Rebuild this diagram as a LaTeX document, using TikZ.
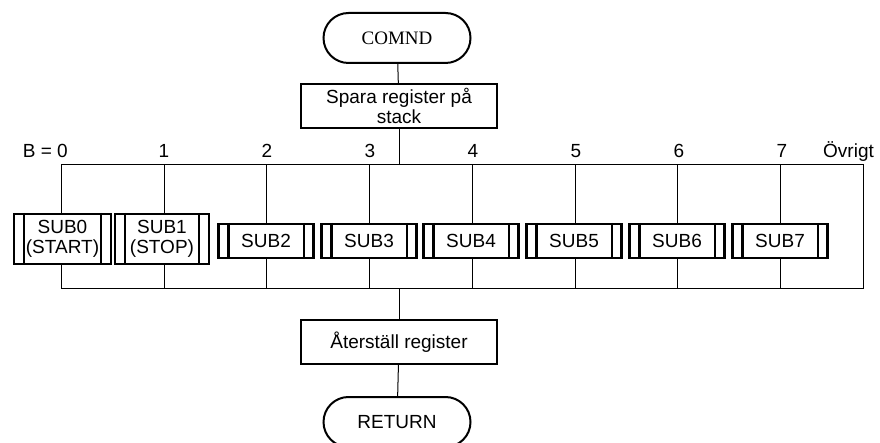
\documentclass[tikz,border=0pt]{standalone}
\usepackage{fontspec}
\setmainfont{Liberation Sans}
\newfontfamily\serifface{Liberation Serif}
\begin{document}
\begin{tikzpicture}[x=1pt,y=-1pt,
  every node/.style={font=\fontsize{19}{20}\selectfont},
  conn/.style={line width=1pt},
  term/.style={draw, line width=2pt, rounded corners=25pt, minimum width=147pt, minimum height=50pt, inner sep=0pt},
  proc/.style={draw, line width=2.4pt, minimum width=196pt, minimum height=44pt, inner sep=0pt, align=center},
  subbox/.style={draw, line width=2.4pt, minimum width=95pt, minimum height=34pt, inner sep=0pt, align=center},
  band/.style={line width=2.4pt},
  lbl/.style={inner sep=0pt}
]
\path[use as bounding box] (0,0) rectangle (880,443);

% terminals and process boxes
\node[term, font=\serifface\fontsize{19}{20}\selectfont] (comnd) at (397,38) {COMND};
\node[proc] (spara) at (399,106) {Spara register på\\stack};
\node[proc] (restore) at (399,342) {Återställ register};
\node[term] (ret) at (397,422) {RETURN};

% bus coordinates
\foreach \i/\x in {0/61,1/164,2/266,3/369,4/472,5/575,6/677,7/780,8/863}{
  \coordinate (t\i) at (\x,165);
  \coordinate (b\i) at (\x,289);
}
\coordinate (tm) at (399,165);
\coordinate (bm) at (399,289);

% sub boxes
\node[subbox, minimum width=97pt, minimum height=50pt] (s0) at (62.5,239) {SUB0\\(START)};
\node[subbox, minimum width=94pt, minimum height=50pt] (s1) at (162,239) {SUB1\\(STOP)};
\foreach \i/\x in {2/266,3/369,4/471,5/574,6/677,7/780}{
  \node[subbox] (s\i) at (\x,241) {SUB\i};
}
\foreach \i in {0,...,7}{
  \draw[band] ([xshift=11pt]s\i.north west) -- ([xshift=11pt]s\i.south west);
  \draw[band] ([xshift=-11pt]s\i.north east) -- ([xshift=-11pt]s\i.south east);
  \draw[conn] (t\i) -- (t\i |- s\i.north);
  \draw[conn] (b\i |- s\i.south) -- (b\i);
}

% labels
\node[lbl, anchor=base east] (l0) at (68,158) {B = 0};
\foreach \i/\x in {1/164,2/267,3/370,4/473,5/576,6/679,7/782}{
  \node[lbl, anchor=base] (l\i) at (\x,158) {\i};
}
\node[lbl, anchor=base west] (l8) at (823,158) {Övrigt};

% connectors
\draw[conn] (comnd) -- (spara);
\draw[conn] (spara) -- (tm);
\draw[conn] (t0) -- (t8) -- (b8) -- (b0);
\draw[conn] (bm) -- (restore);
\draw[conn] (restore) -- (ret);
\end{tikzpicture}
\end{document}
